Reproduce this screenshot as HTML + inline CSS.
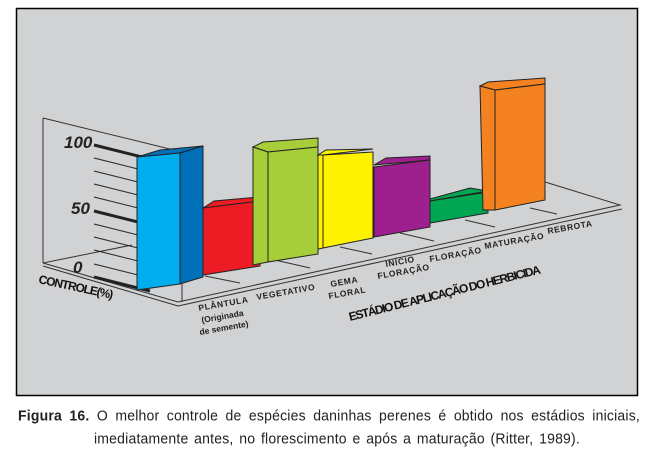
<!DOCTYPE html>
<html><head><meta charset="utf-8"><style>
body{margin:0;width:660px;height:455px;background:#fff;overflow:hidden;font-family:"Liberation Sans",sans-serif}
.cap{position:absolute;left:18px;width:622px;font-size:14px;letter-spacing:0.2px;line-height:16px;color:#222;text-align:justify;text-align-last:justify;white-space:nowrap;transform:scaleY(1.08)}
</style></head><body>
<svg width="660" height="400" style="position:absolute;left:0;top:0" font-family="Liberation Sans, sans-serif">
<rect x="16.5" y="8.5" width="621" height="387" fill="#d1d2d4" stroke="#000" stroke-width="1.5"/>
<g stroke="#333" stroke-width="1" fill="none">
<line x1="43" y1="118" x2="43" y2="263"/>
<line x1="43" y1="118" x2="182" y2="152"/>
<line x1="182" y1="152" x2="182" y2="302"/>
<line x1="43" y1="263" x2="178" y2="302"/>
<line x1="43" y1="266" x2="178" y2="306"/>
<line x1="43" y1="263" x2="132" y2="245"/>
<polyline points="178,302 620,205 545,182"/>
<line x1="178" y1="306" x2="622" y2="209"/>
<line x1="240" y1="283" x2="205" y2="276"/>
<line x1="310" y1="268" x2="275" y2="260"/>
<line x1="372" y1="254" x2="340" y2="247"/>
<line x1="434" y1="241" x2="400" y2="233"/>
<line x1="495" y1="227" x2="465" y2="220"/>
<line x1="557" y1="214" x2="530" y2="208"/>
</g>
<g stroke="#222">
<line x1="94" y1="145" x2="150" y2="159" stroke-width="3"/>
<line x1="94" y1="211" x2="150" y2="225" stroke-width="3"/>
<line x1="94" y1="277" x2="150" y2="291" stroke-width="3"/>
<g stroke-width="1">
<line x1="94" y1="158" x2="150" y2="172"/><line x1="94" y1="171" x2="150" y2="185"/>
<line x1="94" y1="184" x2="150" y2="198"/><line x1="94" y1="197" x2="150" y2="211"/>
<line x1="94" y1="224" x2="150" y2="238"/><line x1="94" y1="237" x2="150" y2="251"/>
<line x1="94" y1="250" x2="150" y2="264"/><line x1="94" y1="264" x2="150" y2="278"/>
</g></g>
<g font-weight="bold" font-style="italic" font-size="17" fill="#222">
<text x="64" y="148">100</text><text x="71" y="214">50</text><text x="73" y="273">0</text>
</g>
<text x="38" y="283" font-weight="bold" font-size="12" letter-spacing="-1" fill="#111" transform="rotate(12 38 283)">CONTROLE(%)</text>
<g stroke="#222" stroke-width="1">
<polygon points="137,157 160,150 203,146 180,153" fill="#0070b8"/>
<polygon points="180,153 203,146 203,277 180,284" fill="#0070b8"/>
<polygon points="137,157 180,153 180,284 137,290" fill="#00adef"/>
<polygon points="203,208 214,201 260,197 260,201" fill="#ed1c24"/>
<polygon points="203,208 260,201 260,266 203,275" fill="#ed1c24"/>
<polygon points="253,147 263,142 318,138 318,147 268,152" fill="#a6ce39"/>
<polygon points="253,147 268,152 268,262 253,265" fill="#a6ce39"/>
<polygon points="268,152 318,147 318,254 268,262" fill="#a6ce39"/>
<polygon points="318,155 326,150 373,149 323,155" fill="#fff200"/>
<polygon points="318,155 323,155 323,248 318,249" fill="#fff200"/>
<polygon points="323,155 373,152 373,238 323,248" fill="#fff200"/>
<polygon points="374,165 386,158 430,156 430,160" fill="#9e1f8e"/>
<polygon points="374,167 430,160 430,227 374,237" fill="#9e1f8e"/>
<polygon points="430,199 470,188 488,191 430,201" fill="#00a651"/>
<polygon points="430,201 488,192 488,213 430,223" fill="#00a651"/>
<polygon points="480,86 488,82 545,78 545,84 495,90" fill="#f58220"/>
<polygon points="480,86 495,90 495,210 483,210" fill="#f58220"/>
<polygon points="495,90 545,84 545,200 495,210" fill="#f58220"/>
</g>
<g font-weight="bold" font-size="8.5" fill="#222" letter-spacing="0.6">
<text x="199" y="311" transform="rotate(-10 199 311)">PLÂNTULA</text>
<text x="202" y="323" letter-spacing="0" transform="rotate(-10 202 323)">(Originada</text>
<text x="200" y="335" letter-spacing="0" transform="rotate(-10 200 335)">de semente)</text>
<text x="257" y="300" transform="rotate(-10 257 300)">VEGETATIVO</text>
<text x="331" y="287" transform="rotate(-10 331 287)">GEMA</text>
<text x="329" y="299" transform="rotate(-10 329 299)">FLORAL</text>
<text x="386" y="267" transform="rotate(-10 386 267)">INÍCIO</text>
<text x="378" y="279" transform="rotate(-10 378 279)">FLORAÇÃO</text>
<text x="430" y="262" transform="rotate(-10 430 262)">FLORAÇÃO</text>
<text x="485" y="249" transform="rotate(-10 485 249)">MATURAÇÃO</text>
<text x="548" y="234" transform="rotate(-10 548 234)">REBROTA</text>
</g>
<text x="350" y="321" font-weight="bold" font-size="12" letter-spacing="-1.3" fill="#111" transform="rotate(-14 350 321)">ESTÁDIO DE APLICAÇÃO DO HERBICIDA</text>
</svg>
<div class="cap" style="top:407px"><b>Figura 16.</b> O melhor controle de espécies daninhas perenes é obtido nos estádios iniciais,</div>
<div class="cap" style="top:430px;left:94px;width:486px">imediatamente antes, no florescimento e após a maturação (Ritter, 1989).</div>
</body></html>
